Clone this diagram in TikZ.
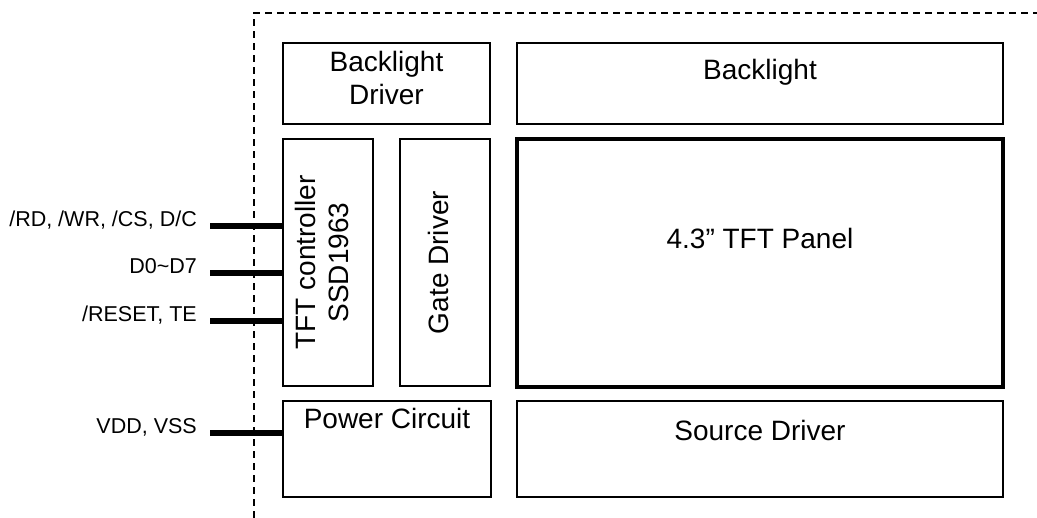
\documentclass[tikz,border=0pt]{standalone}
\usepackage{fontspec}
\setmainfont{Liberation Sans}
\usetikzlibrary{positioning}
\tikzset{
  blk/.style={draw, line width=1.3pt, inner sep=0pt},
  blktxt/.style={font=\fontsize{28}{33}\selectfont, align=center},
  sig/.style={line width=5.5pt},
  siglbl/.style={font=\fontsize{21.5}{25}\selectfont, anchor=base east, inner sep=0pt},
}
\begin{document}
\begin{tikzpicture}[x=1pt, y=-1pt]
\useasboundingbox (0,0) rectangle (1037,518);
\draw[line width=1.2pt, dash pattern=on 7pt off 5pt] (254,518) -- (254,13) -- (1037,13);
\node[blk, minimum width=207, minimum height=81,
  label={[blktxt, name=bldrvt, yshift=6pt]center:Backlight\\Driver}] (bldrv) at (386.5,83.5) {};
\node[blk, minimum width=486, minimum height=81,
  label={[blktxt, name=blt, yshift=11pt]center:Backlight}] (bl) at (760,83.5) {};
\node[blk, minimum width=90, minimum height=247,
  label={[blktxt, name=ctrlt, xshift=-6pt, rotate=90]center:TFT controller\\SSD1963}] (ctrl) at (328,262.5) {};
\node[blk, minimum width=90, minimum height=247,
  label={[blktxt, name=gatet, xshift=-7pt, rotate=90]center:Gate Driver}] (gate) at (445,262.5) {};
\node[blk, line width=4pt, minimum width=486, minimum height=248,
  label={[blktxt, name=panelt, yshift=25pt]center:4.3” TFT Panel}] (panel) at (760,263) {};
\node[blk, minimum width=208, minimum height=96,
  label={[blktxt, name=pwrt, yshift=31pt]center:Power Circuit}] (pwr) at (387,449) {};
\node[blk, minimum width=486, minimum height=96,
  label={[blktxt, name=srct, yshift=19pt]center:Source Driver}] (src) at (760,449) {};
\coordinate (rdwr) at (210,226);
\coordinate (data) at (210,273);
\coordinate (rst) at (210,321);
\coordinate (pwrin) at (210,433);
\draw[sig] (rdwr) -- (rdwr -| ctrl.west);
\draw[sig] (data) -- (data -| ctrl.west);
\draw[sig] (rst) -- (rst -| ctrl.west);
\draw[sig] (pwrin) -- (pwrin -| pwr.west);
\node[siglbl] (rdwrl) at (197,227) {/RD, /WR, /CS, D/C};
\node[siglbl] (datal) at (197,274) {D0\textasciitilde D7};
\node[siglbl] (rstl) at (197,322) {/RESET, TE};
\node[siglbl] (pwrinl) at (197,434) {VDD, VSS};
\end{tikzpicture}
\end{document}
